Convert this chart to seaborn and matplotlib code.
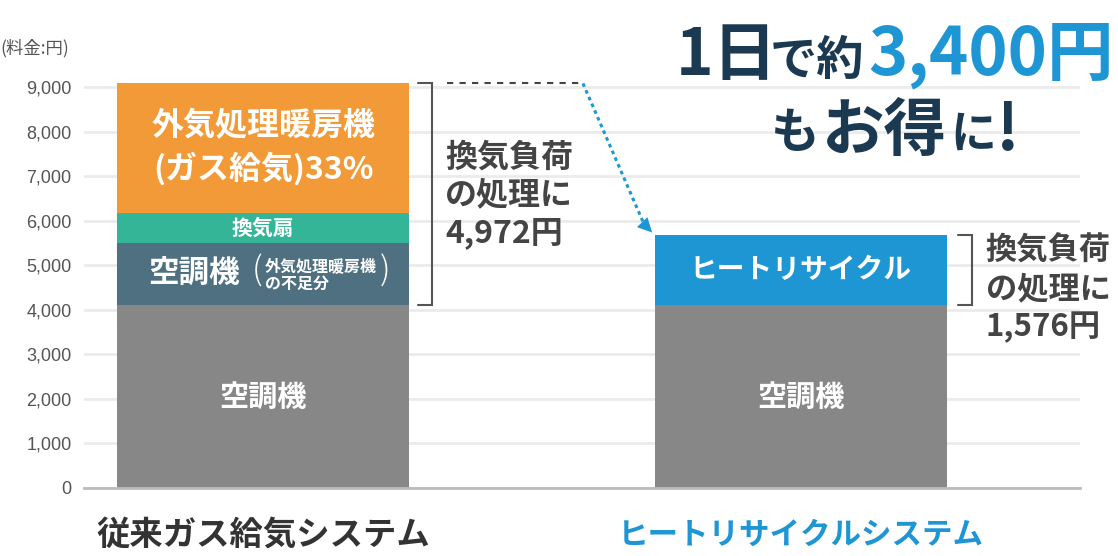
import matplotlib
matplotlib.use("Agg")
import matplotlib.pyplot as plt
import seaborn as sns
import pandas as pd
import numpy as np

# ---- data ----
systems = ["従来ガス給気システム", "ヒートリサイクルシステム"]
aircon = [4108, 4108]                 # 空調機
shortfall_or_recycle = [1390, 1576]   # 空調機(不足分) / ヒートリサイクル
fan = [673, 0]                        # 換気扇
outdoor_unit = [2909, 0]              # 外気処理暖房機
yticks = [0, 1000, 2000, 3000, 4000, 5000, 6000, 7000, 8000, 9000]
ytick_labels = ["0", "1,000", "2,000", "3,000", "4,000", "5,000", "6,000", "7,000", "8,000", "9,000"]

GRAY = "#878787"
SLATE = "#4F7080"
BLUE = "#1E96D4"
TEAL = "#35B597"
ORANGE = "#F39A38"
NAVY = "#1B3A52"
TXT = "#444444"

sns.set_theme(style="white")
plt.rcParams["font.family"] = ["Noto Sans CJK JP", "DejaVu Sans"]

W, H = 1118, 556
fig = plt.figure(figsize=(W / 100, H / 100), dpi=100)
ax = fig.add_axes([84 / W, 68 / H, 996 / W, 428 / H])

l0 = np.array(aircon)
l1 = l0 + np.array(shortfall_or_recycle)
l2 = l1 + np.array(fan)
l3 = l2 + np.array(outdoor_unit)

df = pd.DataFrame({"system": systems, "l0": l0, "l1": l1, "l2": l2, "l3": l3})
bw = 0.543
sns.barplot(data=df, x="system", y="l3", color=ORANGE, width=bw, ax=ax, saturation=1, zorder=2)
sns.barplot(data=df, x="system", y="l2", color=TEAL, width=bw, ax=ax, saturation=1, zorder=2)
sns.barplot(data=df, x="system", y="l1", hue="system", palette=[SLATE, BLUE], width=bw,
            ax=ax, saturation=1, legend=False, dodge=False, zorder=2)
sns.barplot(data=df, x="system", y="l0", color=GRAY, width=bw, ax=ax, saturation=1, zorder=2)
for p in ax.patches:
    p.set_linewidth(0)

ymax = 9000 * 428 / 401
ax.set_ylim(0, ymax)
ax.set_xlim(-0.333, 1.519)
ax.set_yticks(yticks)
ax.set_yticklabels(ytick_labels, fontsize=13, color="#555555", family=["Liberation Sans"])
ax.set_xlabel("")
ax.set_ylabel("")
ax.grid(axis="y", color="#EBEBEB", linewidth=2, zorder=0)
ax.set_axisbelow(True)
for s in ["top", "right", "left"]:
    ax.spines[s].set_visible(False)
ax.spines["bottom"].set_color("#BBBBBB")
ax.spines["bottom"].set_linewidth(2)
ax.tick_params(axis="both", length=0)
ax.tick_params(axis="y", pad=9)
ax.tick_params(axis="x", pad=22)
ax.set_xticks([0, 1])
ax.set_xticklabels(systems, fontweight="bold")
xt = ax.get_xticklabels()
xt[0].set_color("#333333")
xt[0].set_fontsize(24)
xt[1].set_color(BLUE)
xt[1].set_fontsize(22)

# ---- bar labels ----
W_ = "white"
ax.text(0, l0[0] / 2, "空調機", ha="center", va="center", color=W_, fontsize=21, fontweight="bold")
ax.text(1, l0[1] / 2, "空調機", ha="center", va="center", color=W_, fontsize=21, fontweight="bold")
m1 = (l0[0] + l1[0]) / 2
ax.text(-0.043, m1, "空調機", ha="right", va="center", color=W_, fontsize=22, fontweight="bold")
ax.text(-0.022, m1 + 60, "(", ha="left", va="center", color=W_, fontsize=24, fontweight="light")
ax.text(0.003, m1 - 30, "外気処理暖房機\nの不足分", ha="left", va="center",
        color=W_, fontsize=11.5, fontweight="bold", linespacing=1.1)
ax.text(0.236, m1 + 60, ")", ha="right", va="center", color=W_, fontsize=24, fontweight="light")
ax.text(1, (l0[1] + l1[1]) / 2, "ヒートリサイクル", ha="center", va="center", color=W_,
        fontsize=20, fontweight="bold")
ax.text(0, (l1[0] + l2[0]) / 2, "換気扇", ha="center", va="center", color=W_, fontsize=15,
        fontweight="bold")
mid3 = (l2[0] + l3[0]) / 2
ax.text(0, mid3 + 490, "外気処理暖房機", ha="center", va="center", color=W_, fontsize=23,
        fontweight="bold")
ax.text(0, mid3 - 460, "(ガス給気)33%", ha="center", va="center", color=W_, fontsize=23,
        fontweight="bold")

# ---- brackets ----
def bracket(x, y0, y1):
    ax.plot([x - 0.026, x, x, x - 0.026], [y1, y1, y0, y0], color="#555555", lw=1.5,
            solid_joinstyle="miter", zorder=3, clip_on=False)

bracket((432 - 263) / 538, l0[0], l3[0])
bracket((972 - 263) / 538, l0[1], l1[1])
diff_l = l3[0] - l0[0]
diff_r = l1[1] - l0[1]
ax.text((445 - 263) / 538, (l0[0] + l3[0]) / 2 - 30,
        "換気負荷\nの処理に\n" + f"{diff_l:,}円", ha="left", va="center", color=TXT,
        fontsize=23, fontweight="bold", linespacing=1.23)
ax.text((986 - 263) / 538, l0[1] + 360,
        "換気負荷\nの処理に\n" + f"{diff_r:,}円", ha="left", va="center", color=TXT,
        fontsize=22.5, fontweight="bold", linespacing=1.26, clip_on=False)

# ---- arrow ----
xa = (447 - 263) / 538
xb = (583 - 263) / 538
ax.plot([xa, xb], [l3[0], l3[0]], color="#444444", lw=1.5, ls=(0, (3, 3)), zorder=3)
xt_tip = 1 - bw / 2 - 0.005
ax.plot([xb, xt_tip - 0.012], [l3[0], l1[1] + 150], color=BLUE, lw=2.2, ls=(0, (1.2, 1.2)),
        zorder=3)
ax.annotate("", xy=(xt_tip, l1[1] + 50), xytext=(xt_tip - 0.02, l1[1] + 300),
            arrowprops=dict(arrowstyle="-|>", color=BLUE, lw=0, mutation_scale=26,
                            shrinkA=0, shrinkB=0), zorder=4)

# ---- unit label ----
fig.text(0 / W, 1 - 48 / H, "(料金:円)", ha="left", va="center", fontsize=12.5, color="#555555")

# ---- headline ----
def ftxt(px, py, s, size, color, **kw):
    fig.text(px / W, 1 - py / H, s, ha="left", va="baseline", fontsize=size, color=color,
             fontweight="bold", **kw)

ftxt(676, 75, "1日", 46, NAVY)
ftxt(770, 75, "で約", 34, NAVY)
ftxt(868, 75, "3,400円", 48, BLUE)
ftxt(771, 148, "も", 35, NAVY)
ftxt(822, 150, "お得", 45, NAVY)
ftxt(950, 148, "に", 33, NAVY)
ftxt(996, 150, "!", 46, NAVY)

fig.savefig("out.png", dpi=100)
